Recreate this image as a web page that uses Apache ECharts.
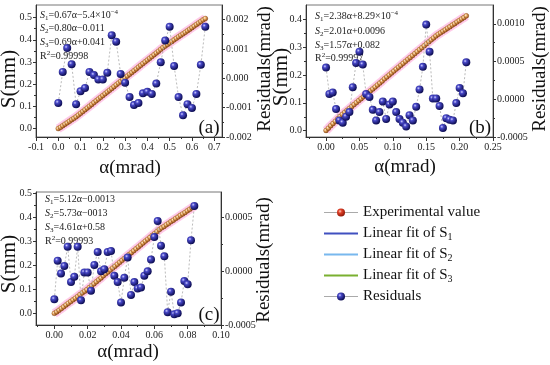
<!DOCTYPE html>
<html><head><meta charset="utf-8">
<script src="https://cdn.jsdelivr.net/npm/echarts@6/dist/echarts.min.js"></script>
<style>html,body{margin:0;padding:0;background:#fff}#c{width:550px;height:365px}</style>
</head><body><div id="c"></div>
<script>
// ---------------- Panel (a) ----------------
const aExpAlpha = [0,0.01,0.02,0.03,0.04,0.05,0.06,0.07,0.08,0.09,0.10,0.11,0.12,0.13,0.14,0.15,0.16,0.17,0.18,0.19,0.20,0.21,0.22,0.23,0.24,0.25,0.26,0.27,0.28,0.29,0.30,0.31,0.32,0.33,0.34,0.35,0.36,0.37,0.38,0.39,0.40,0.41,0.42,0.43,0.44,0.45,0.46,0.47,0.48,0.49,0.50,0.51,0.52,0.53,0.54,0.55,0.56,0.57,0.58,0.59,0.60,0.61,0.62,0.63,0.64,0.65,0.66];
const aExpS = [0.000,0.006,0.013,0.020,0.026,0.033,0.040,0.046,0.053,0.061,0.069,0.077,0.085,0.093,0.101,0.109,0.117,0.125,0.133,0.141,0.149,0.157,0.165,0.173,0.181,0.189,0.197,0.205,0.213,0.221,0.229,0.237,0.245,0.253,0.261,0.269,0.277,0.285,0.293,0.301,0.309,0.317,0.325,0.333,0.341,0.349,0.357,0.365,0.372,0.379,0.386,0.393,0.400,0.407,0.414,0.421,0.427,0.434,0.441,0.448,0.455,0.462,0.469,0.476,0.483,0.490,0.496];
const aResAlpha = [0,0.02,0.04,0.06,0.08,0.10,0.12,0.14,0.16,0.18,0.20,0.22,0.24,0.26,0.28,0.30,0.32,0.34,0.36,0.38,0.40,0.42,0.44,0.46,0.48,0.50,0.52,0.54,0.56,0.58,0.60,0.62,0.64,0.66];
const aRes = [-0.00084,0.00022,0.00103,0.00048,-0.00088,-0.00044,-0.00033,0.00022,0.00011,-0.00004,-0.00004,0.00019,0.00147,0.00125,0.00015,-0.00015,-0.00064,-0.00091,-0.00084,-0.00051,-0.00046,-0.00053,-0.00018,0.00055,0.00129,0.00176,0.00042,-0.00064,-0.00126,-0.00088,-0.00101,-0.00053,0.00046,0.00176];
const aFit1 = [[0,-0.0005],[0.12,0.080]];
const aFit2 = [[0.06,0.037],[0.50,0.389]];
const aFit3 = [[0.45,0.352],[0.66,0.496]];
const aXTicks = [-0.1,0,0.1,0.2,0.3,0.4,0.5,0.6,0.7];
const aYTicks = [0,0.1,0.2,0.3,0.4,0.5];
const aRTicks = [-0.002,-0.001,0,0.001,0.002];
const aEq = ['{i|S}{sb|1}=0.67α−5.4×10{sp|−4}','{i|S}{sb|2}=0.80α−0.011','{i|S}{sb|3}=0.69α+0.041','R{sp|2}=0.99998'];

// ---------------- Panel (b) ----------------
const bExpAlpha = [0,0.0035,0.007,0.0105,0.014,0.0175,0.021,0.0245,0.028,0.0315,0.035,0.0385,0.042,0.0455,0.049,0.0525,0.056,0.0595,0.063,0.0665,0.07,0.0735,0.077,0.0805,0.084,0.0875,0.091,0.0945,0.098,0.1015,0.105,0.1085,0.112,0.1155,0.119,0.1225,0.126,0.1295,0.133,0.1365,0.14,0.1435,0.147,0.1505,0.154,0.1575,0.161,0.1645,0.168,0.1715,0.175,0.1785,0.182,0.1855,0.189,0.1925,0.196,0.1995,0.203,0.2065,0.21];
const bExpS = [0.001,0.009,0.018,0.026,0.034,0.043,0.051,0.059,0.066,0.073,0.080,0.087,0.094,0.101,0.108,0.115,0.122,0.129,0.136,0.143,0.150,0.157,0.164,0.171,0.178,0.186,0.193,0.200,0.207,0.214,0.221,0.228,0.235,0.242,0.249,0.256,0.263,0.270,0.277,0.284,0.291,0.298,0.305,0.312,0.319,0.326,0.333,0.340,0.346,0.351,0.357,0.362,0.368,0.373,0.379,0.384,0.390,0.395,0.401,0.406,0.412];
const bResAlpha = [0,0.005,0.01,0.015,0.02,0.025,0.03,0.035,0.04,0.045,0.05,0.055,0.06,0.065,0.07,0.075,0.08,0.085,0.09,0.095,0.10,0.105,0.11,0.115,0.12,0.125,0.13,0.135,0.14,0.145,0.15,0.155,0.16,0.165,0.17,0.175,0.18,0.185,0.19,0.195,0.20,0.205,0.21];
const bRes = [0.00042,0.00007,0.00009,-0.00013,-0.00028,-0.00031,-0.00023,-0.00017,0.00016,0.00048,0.00063,0.00046,0.00007,0.00003,-0.00014,-0.00028,-0.00017,-0.00003,-0.00026,-0.00007,-0.00003,-0.00017,-0.00026,-0.00031,-0.00036,-0.00021,-0.00028,-0.0001,0.00013,0.00043,0.00099,0.00063,0.00001,0.00001,-0.00009,-0.00038,-0.00025,-0.00027,-0.00028,-0.00005,0.00015,0.00008,0.00049];
const bFit1 = [[0,0.0008],[0.04,0.096]];
const bFit2 = [[0.02,0.050],[0.17,0.351]];
const bFit3 = [[0.15,0.318],[0.21,0.412]];
const bXTicks = [0,0.05,0.10,0.15,0.20,0.25];
const bYTicks = [0,0.1,0.2,0.3,0.4];
const bRTicks = [-0.0005,0,0.0005,0.0010];
const bEq = ['{i|S}{sb|1}=2.38α+8.29×10{sp|−4}','{i|S}{sb|2}=2.01α+0.0096','{i|S}{sb|3}=1.57α+0.082','R{sp|2}=0.99997'];

// ---------------- Panel (c) ----------------
const cExpAlpha = [0,0.0014,0.0028,0.0042,0.0056,0.007,0.0084,0.0098,0.0112,0.0126,0.014,0.0154,0.0168,0.0182,0.0196,0.021,0.0224,0.0238,0.0252,0.0266,0.028,0.0294,0.0308,0.0322,0.0336,0.035,0.0364,0.0378,0.0392,0.0406,0.042,0.0434,0.0448,0.0462,0.0476,0.049,0.0504,0.0518,0.0532,0.0546,0.056,0.0574,0.0588,0.0602,0.0616,0.063,0.0644,0.0658,0.0672,0.0686,0.07,0.0714,0.0728,0.0742,0.0756,0.077,0.0784,0.0798,0.0812,0.0826,0.084];
const cExpS = [0.000,0.006,0.013,0.020,0.027,0.035,0.042,0.049,0.056,0.063,0.070,0.078,0.085,0.092,0.099,0.107,0.115,0.123,0.131,0.139,0.147,0.156,0.164,0.172,0.180,0.188,0.196,0.204,0.212,0.220,0.228,0.236,0.244,0.252,0.260,0.268,0.276,0.284,0.292,0.300,0.308,0.316,0.324,0.332,0.340,0.348,0.355,0.361,0.368,0.374,0.381,0.387,0.394,0.400,0.407,0.413,0.419,0.426,0.432,0.439,0.445];
const cResAlpha = [0,0.002,0.004,0.006,0.008,0.010,0.012,0.014,0.016,0.018,0.020,0.022,0.024,0.026,0.028,0.030,0.032,0.034,0.036,0.038,0.040,0.042,0.044,0.046,0.048,0.050,0.052,0.054,0.056,0.058,0.060,0.062,0.064,0.066,0.068,0.070,0.072,0.074,0.076,0.078,0.080,0.082,0.084];
const cRes = [-0.00026,0.0001,-0.00002,0.00005,0.00023,-0.0001,-0.00005,0.00023,-0.00027,-0.00001,-0.00001,-0.00018,0.00006,0.00018,0.0,0.00002,0.00018,0.00019,-0.00004,-0.0001,-0.00029,-0.00006,0.00013,-0.00022,-0.0001,-0.00016,-0.00015,-0.00004,0.0,0.00011,0.00032,0.00047,0.00024,0.00014,-0.00038,-0.00019,-0.0004,-0.00039,-0.00029,-0.00009,-0.00012,0.00029,0.00061];
const cFit1 = [[0,-0.0013],[0.025,0.127]];
const cFit2 = [[0.015,0.073],[0.066,0.365]];
const cFit3 = [[0.06,0.335],[0.084,0.445]];
const cXTicks = [0,0.02,0.04,0.06,0.08,0.10];
const cYTicks = [0,0.1,0.2,0.3,0.4,0.5];
const cRTicks = [-0.0005,0,0.0005];
const cEq = ['{i|S}{sb|1}=5.12α−0.0013','{i|S}{sb|2}=5.73α−0013','{i|S}{sb|3}=4.61α+0.58','R{sp|2}=0.99993'];

const legendNames = ['Experimental value','Linear fit of S1','Linear fit of S2','Linear fit of S3','Residuals'];

// ---------------- helpers ----------------
const FF = 'Liberation Serif, Times New Roman, serif';
const AX = '#333';
const FIT_COLORS = ['#4050c0', '#78b8ee', '#7ab030'];
function zip(x, y) { return x.map((v, i) => [v, y[i]]); }
function midTicks(t) { const r = []; for (let i = 0; i < t.length - 1; i++) r.push(+((t[i] + t[i+1]) / 2).toFixed(6)); return r; }

function xAxes(gi, min, max, ticks, minors, dec) {
  return [
    { type:'value', gridIndex:gi, min, max, position:'bottom',
      axisLine:{ show:true, onZero:false, lineStyle:{ color:AX, width:1 } },
      axisTick:{ show:true, inside:false, length:4, customValues:ticks, lineStyle:{ color:AX } },
      axisLabel:{ show:true, customValues:ticks, formatter:v => v.toFixed(dec), fontFamily:FF, fontSize:10, color:'#222', margin:5 },
      splitLine:{ show:false } },
    { type:'value', gridIndex:gi, min, max, position:'bottom',
      axisLine:{ show:false, onZero:false },
      axisTick:{ show:true, inside:false, length:2, customValues:minors, lineStyle:{ color:AX } },
      axisLabel:{ show:false }, splitLine:{ show:false } }
  ];
}
function yAxes(gi, pos, min, max, ticks, minors, dec) {
  return [
    { type:'value', gridIndex:gi, min, max, position:pos,
      axisLine:{ show:true, onZero:false, lineStyle:{ color:AX, width:1 } },
      axisTick:{ show:true, inside:false, length:3, customValues:ticks, lineStyle:{ color:AX } },
      axisLabel:{ show:true, customValues:ticks, formatter:v => v.toFixed(dec), fontFamily:FF, fontSize:10, color:'#222', margin:4 },
      splitLine:{ show:false } },
    { type:'value', gridIndex:gi, min, max, position:pos,
      axisLine:{ show:false, onZero:false },
      axisTick:{ show:true, inside:false, length:2, customValues:minors, lineStyle:{ color:AX } },
      axisLabel:{ show:false }, splitLine:{ show:false } }
  ];
}

const expColor = { type:'radial', x:0.38, y:0.38, r:0.62, colorStops:[
  { offset:0, color:'#fff4dc' }, { offset:0.45, color:'#e3a35a' }, { offset:1, color:'#8a4612' } ] };
const resColor = { type:'radial', x:0.36, y:0.34, r:0.66, colorStops:[
  { offset:0, color:'#d0d0ff' }, { offset:0.3, color:'#4848c8' }, { offset:1, color:'#0c0c52' } ] };
const legExpColor = { type:'radial', x:0.38, y:0.35, r:0.65, colorStops:[
  { offset:0, color:'#ffd0c0' }, { offset:0.35, color:'#e04028' }, { offset:1, color:'#901808' } ] };

function panelSeries(g, expA, expS, resA, res, f1, f2, f3) {
  const xi = 2 * g, yl = 4 * g, yr = 4 * g + 2;
  return [
    { type:'line', xAxisIndex:xi, yAxisIndex:yl, data:zip(expA, expS), symbol:'none', silent:true,
      lineStyle:{ width:9, color:'rgba(255,150,210,0.5)' }, z:1 },
    { type:'line', name:'Linear fit of S1', xAxisIndex:xi, yAxisIndex:yl, data:f1, symbol:'none',
      itemStyle:{ color:FIT_COLORS[0] }, lineStyle:{ width:1.5, color:FIT_COLORS[0] }, z:2 },
    { type:'line', name:'Linear fit of S2', xAxisIndex:xi, yAxisIndex:yl, data:f2, symbol:'none',
      itemStyle:{ color:FIT_COLORS[1] }, lineStyle:{ width:1.5, color:FIT_COLORS[1] }, z:2 },
    { type:'line', name:'Linear fit of S3', xAxisIndex:xi, yAxisIndex:yl, data:f3, symbol:'none',
      itemStyle:{ color:FIT_COLORS[2] }, lineStyle:{ width:1.5, color:FIT_COLORS[2] }, z:2 },
    { type:'line', name:'Experimental value', xAxisIndex:xi, yAxisIndex:yl, data:zip(expA, expS),
      symbol:'circle', symbolSize:5, showSymbol:true,
      itemStyle:{ color:expColor, borderColor:'#7a3a10', borderWidth:0.3 },
      lineStyle:{ width:0.6, color:'#999' }, z:3 },
    { type:'line', name:'Residuals', xAxisIndex:xi, yAxisIndex:yr, data:zip(resA, res),
      symbol:'circle', symbolSize:8, showSymbol:true,
      itemStyle:{ color:resColor },
      lineStyle:{ width:0.8, color:'#a8a8a8', type:[2,2] }, z:4 }
  ];
}

function txt(x, y, text, size, rot) {
  return { type:'text', x, y, rotation:rot || 0, silent:true,
    style:{ text, fontFamily:FF, fontSize:size, fill:'#111', align:'center', verticalAlign:'middle' } };
}
const eqRich = {
  i:{ fontStyle:'italic', fontFamily:FF, fontSize:10, lineHeight:13 },
  sb:{ fontFamily:FF, fontSize:7, lineHeight:8, verticalAlign:'bottom' },
  sp:{ fontFamily:FF, fontSize:7, lineHeight:8, verticalAlign:'top' }
};
function eqs(x, ys, lines) {
  return lines.map((t, i) => ({ type:'text', x, y:ys[i], silent:true,
    style:{ text:t, rich:eqRich, fontFamily:FF, fontSize:10, lineHeight:13, fill:'#222', align:'left', verticalAlign:'middle' } }));
}

const option = {
  animation:false,
  backgroundColor:'#fff',
  grid:[
    { left:36, top:5, width:186, height:132, show:true, borderColor:'#777', borderWidth:1, backgroundColor:'transparent' },
    { left:306, top:5, width:187, height:132, show:true, borderColor:'#777', borderWidth:1, backgroundColor:'transparent' },
    { left:36, top:192, width:185, height:133, show:true, borderColor:'#777', borderWidth:1, backgroundColor:'transparent' }
  ],
  xAxis:[].concat(
    xAxes(0, -0.1, 0.735, aXTicks, midTicks(aXTicks), 1),
    xAxes(1, -0.03, 0.25, bXTicks, [-0.025].concat(midTicks(bXTicks)), 2),
    xAxes(2, -0.011, 0.1, cXTicks, [-0.01].concat(midTicks(cXTicks)), 2)
  ),
  yAxis:[].concat(
    yAxes(0, 'left', -0.038, 0.557, aYTicks, midTicks(aYTicks), 1),
    yAxes(0, 'right', -0.002, 0.0025, aRTicks, midTicks(aRTicks), 3),
    yAxes(1, 'left', -0.0226, 0.451, bYTicks, midTicks(bYTicks), 1),
    yAxes(1, 'right', -0.0005, 0.00125, bRTicks, midTicks(bRTicks), 4),
    yAxes(2, 'left', -0.0485, 0.504, cYTicks, midTicks(cYTicks), 1),
    yAxes(2, 'right', -0.0005, 0.00074, cRTicks, midTicks(cRTicks), 4)
  ),
  legend:{
    orient:'vertical', left:323, top:204, padding:0, itemWidth:34, itemHeight:10, itemGap:4, selectedMode:false,
    data:[
      { name:legendNames[0], itemStyle:{ color:legExpColor, borderWidth:0 }, lineStyle:{ color:'#aaa', width:1 } },
      { name:legendNames[1], itemStyle:{ opacity:0 }, lineStyle:{ color:FIT_COLORS[0], width:2 } },
      { name:legendNames[2], itemStyle:{ opacity:0 }, lineStyle:{ color:FIT_COLORS[1], width:2 } },
      { name:legendNames[3], itemStyle:{ opacity:0 }, lineStyle:{ color:FIT_COLORS[2], width:2 } },
      { name:legendNames[4], itemStyle:{ color:resColor, borderWidth:0 }, lineStyle:{ color:'#aaa', width:1, type:'solid' } }
    ],
    formatter:n => n.replace(/S(\d)$/, 'S{s|$1}'),
    textStyle:{ fontFamily:FF, fontSize:15, color:'#111', lineHeight:17,
      rich:{ s:{ fontFamily:FF, fontSize:10, lineHeight:10, verticalAlign:'bottom' } } }
  },
  graphic:[].concat(
    [ txt(9, 79, 'S(mm)', 21, Math.PI/2),
      txt(130, 168, 'α(mrad)', 19, 0),
      txt(265, 69, 'Residuals(mrad)', 19, Math.PI/2),
      txt(209, 128, '(a)', 19, 0),
      txt(281, 77, 'S(mm)', 21, Math.PI/2),
      txt(405, 167, 'α(mrad)', 19, 0),
      txt(540, 69, 'Residuals(mrad)', 19, Math.PI/2),
      txt(480, 128, '(b)', 19, 0),
      txt(9, 264, 'S(mm)', 21, Math.PI/2),
      txt(128, 352, 'α(mrad)', 19, 0),
      txt(264, 260, 'Residuals(mrad)', 19, Math.PI/2),
      txt(209, 315, '(c)', 19, 0) ],
    eqs(40, [15, 28.5, 42.5, 56.5], aEq),
    eqs(315, [16, 31.5, 45, 58.5], bEq),
    eqs(45, [199.5, 213.5, 227.5, 241.5], cEq)
  ),
  series:[].concat(
    panelSeries(0, aExpAlpha, aExpS, aResAlpha, aRes, aFit1, aFit2, aFit3),
    panelSeries(1, bExpAlpha, bExpS, bResAlpha, bRes, bFit1, bFit2, bFit3),
    panelSeries(2, cExpAlpha, cExpS, cResAlpha, cRes, cFit1, cFit2, cFit3)
  )
};
const chart = echarts.init(document.getElementById('c'), null, { renderer:'canvas' });
chart.setOption(option);
</script>
</body></html>
